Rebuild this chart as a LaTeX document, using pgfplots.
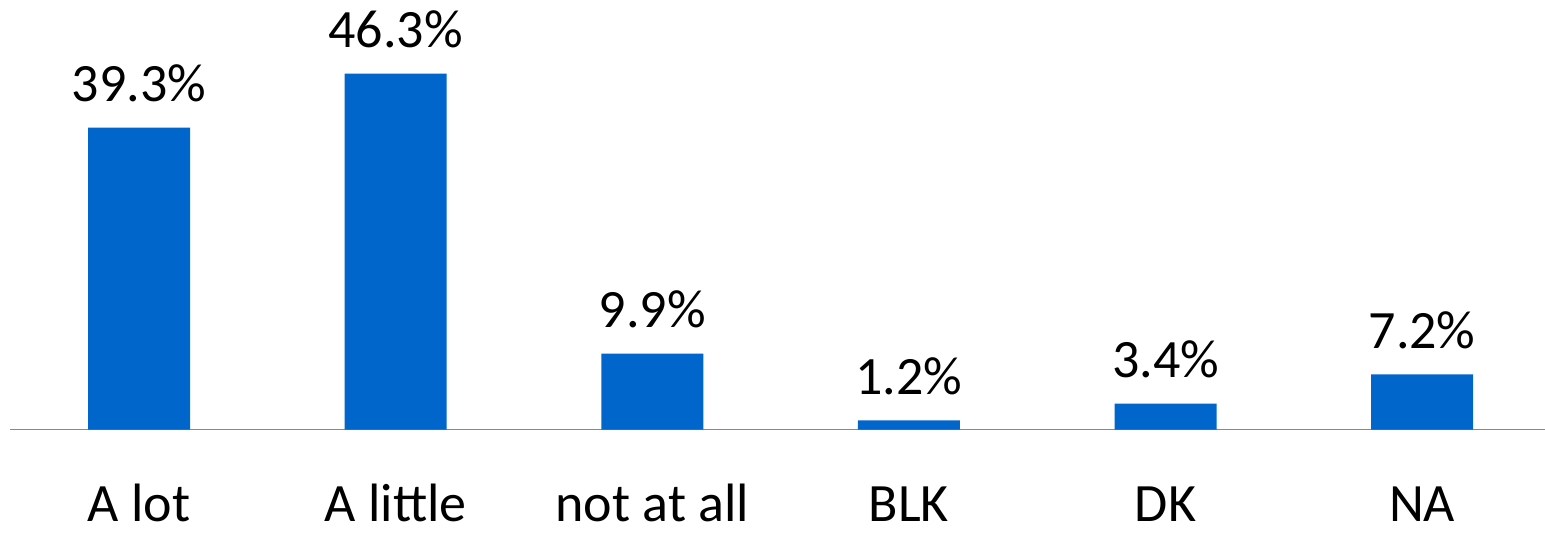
\documentclass[border=0pt]{standalone}
\usepackage{pgfplots}
\pgfplotsset{compat=1.18}
\usepackage{fontspec}
\setmainfont{Carlito}
\definecolor{barblue}{HTML}{0066CC}
\definecolor{axisgray}{HTML}{898989}
\begin{document}
\begin{tikzpicture}
\path[use as bounding box] (-5pt,-53.15pt) rectangle (767.5pt,214.85pt);
\begin{axis}[
  scale only axis,
  width=767.5pt, height=200pt,
  anchor=south west, at={(0,0)},
  xmin=-0.503, xmax=5.479,
  ymin=0, ymax=52.02,
  axis x line*=bottom,
  axis y line=none,
  x axis line style={draw=axisgray, line width=0.75pt, -},
  xtick=data,
  xticklabels={A lot, A little, not at all, BLK, DK, NA},
  major tick length=0pt,
  xtick style={draw=none},
  xticklabel style={anchor=base, inner sep=0pt, yshift=-46pt, font=\fontsize{27}{32}\selectfont},
  /pgf/number format/assume math mode=true,
  ybar, bar width=51pt,
  nodes near coords={\pgfmathprintnumber[fixed,precision=1,fixed zerofill]{\pgfplotspointmeta}\%},
  every node near coord/.append style={anchor=base, inner sep=0pt, yshift=13pt, font=\fontsize{27}{32}\selectfont, text=black},
  clip=false,
]
\addplot[fill=barblue, draw=none] coordinates {(0,39.3) (1,46.3) (2,9.9) (3,1.2) (4,3.4) (5,7.2)};
\end{axis}
\end{tikzpicture}
\end{document}
